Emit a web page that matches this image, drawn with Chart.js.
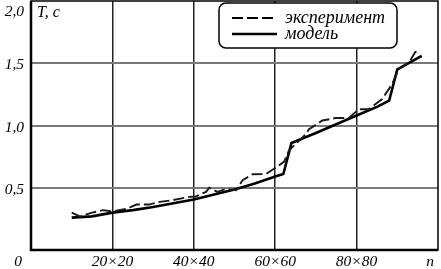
<!DOCTYPE html>
<html>
<head>
<meta charset="utf-8">
<script src="https://cdn.jsdelivr.net/npm/chart.js@4"></script>
<style>
  html, body { margin: 0; padding: 0; background: #fff; }
  #wrap { width: 441px; height: 269px; }
</style>
</head>
<body>
<div id="wrap"><canvas id="chart"></canvas></div>
<script>
// values
const nExp = [10, 12, 15, 17.7, 20, 23.4, 25.9, 29, 31.6, 34.8, 38.9, 40.5, 43, 43.8, 45.8, 47.9, 50.4, 52, 54.4, 57.7, 60.1, 62.2, 63.4, 65, 67.5, 68.3, 71.6, 74.8, 78.1, 80.5, 83, 86.2, 88.7, 90.3, 92.8, 94.4, 95.2];
const tExp = [0.30, 0.27, 0.30, 0.32, 0.31, 0.33, 0.365, 0.365, 0.387, 0.40, 0.427, 0.43, 0.467, 0.50, 0.467, 0.49, 0.48, 0.56, 0.608, 0.61, 0.66, 0.71, 0.80, 0.85, 0.93, 0.97, 1.04, 1.06, 1.06, 1.13, 1.13, 1.21, 1.33, 1.45, 1.50, 1.59, 1.60];
const nModel = [10, 15, 20, 25, 30, 35, 40, 45, 50, 55, 60, 62, 64, 70, 75, 80, 85, 88, 90, 96];
const tModel = [0.26, 0.27, 0.30, 0.32, 0.345, 0.375, 0.405, 0.445, 0.486, 0.535, 0.59, 0.61, 0.86, 0.94, 1.01, 1.08, 1.15, 1.20, 1.45, 1.56];

const xTicks = [20, 40, 60, 80];
const xTickLabels = ['20×20', '40×40', '60×60', '80×80'];
const yTicks = [0.5, 1.0, 1.5, 2.0];
const yTickLabels = ['0,5', '1,0', '1,5', '2,0'];
const seriesNames = ['эксперимент', 'модель'];

const FAMILY = '"Liberation Serif", "Times New Roman", serif';

const toPoints = (xs, ys) => xs.map((x, i) => ({ x: x, y: ys[i] }));

// axis texts, legend box and frame drawn on top of the chart
const decor = {
  id: 'decor',
  afterDraw(chart) {
    const { ctx, chartArea: a, scales: { x, y } } = chart;
    ctx.save();
    ctx.fillStyle = '#000';

    // frame: thin on top/right, heavy on the axes
    ctx.strokeStyle = '#000';
    ctx.lineWidth = 1.5;
    ctx.strokeRect(a.left, a.top, a.right - a.left, a.bottom - a.top);
    ctx.lineWidth = 2.5;
    ctx.beginPath();
    ctx.moveTo(a.left, a.top);
    ctx.lineTo(a.left, a.bottom);
    ctx.lineTo(a.right, a.bottom);
    ctx.stroke();

    // x labels
    ctx.font = 'italic 15.5px ' + FAMILY;
    ctx.textAlign = 'center';
    ctx.textBaseline = 'middle';
    xTicks.forEach((v, i) => ctx.fillText(xTickLabels[i], x.getPixelForValue(v), a.bottom + 12));
    ctx.fillText('0', a.left - 13, a.bottom + 12);
    ctx.fillText('n', a.right - 8, a.bottom + 12);

    // y labels
    ctx.textAlign = 'right';
    yTicks.forEach((v, i) => {
      let py = y.getPixelForValue(v);
      if (py < a.top + 9) py = a.top + 9;
      ctx.fillText(yTickLabels[i], a.left - 7, py + 2);
    });
    ctx.font = 'italic 16px ' + FAMILY;
    ctx.textAlign = 'left';
    ctx.fillText('T, c', a.left + 6, a.top + 12);

    // legend
    const lx = 219, ly = 3, lw = 178, lh = 45;
    ctx.beginPath();
    ctx.roundRect(lx, ly, lw, lh, 7);
    ctx.fillStyle = '#fff';
    ctx.fill();
    ctx.lineWidth = 1.5;
    ctx.strokeStyle = '#000';
    ctx.stroke();
    ctx.font = 'italic 18px ' + FAMILY;
    chart.data.datasets.forEach((ds, i) => {
      const yy = ly + 15 + i * 16;
      ctx.beginPath();
      ctx.setLineDash(ds.borderDash || []);
      ctx.lineWidth = ds.borderWidth;
      ctx.moveTo(lx + 13, yy);
      ctx.lineTo(lx + 58, yy);
      ctx.stroke();
      ctx.setLineDash([]);
      ctx.fillStyle = '#000';
      ctx.fillText(seriesNames[i], lx + 66, yy);
    });
    ctx.restore();
  }
};

new Chart(document.getElementById('chart'), {
  type: 'scatter',
  data: {
    datasets: [
      {
        label: seriesNames[0],
        data: toPoints(nExp, tExp),
        showLine: true,
        borderColor: '#1a1a1a',
        borderWidth: 1.9,
        borderDash: [11, 4],
        pointRadius: 0,
        tension: 0
      },
      {
        label: seriesNames[1],
        data: toPoints(nModel, tModel),
        showLine: true,
        borderColor: '#000',
        borderWidth: 2.6,
        pointRadius: 0,
        tension: 0
      }
    ]
  },
  options: {
    responsive: true,
    maintainAspectRatio: false,
    animation: false,
    layout: { padding: { left: 31, right: 3, top: 1, bottom: 19 } },
    plugins: {
      legend: { display: false },
      tooltip: { enabled: false }
    },
    scales: {
      x: {
        type: 'linear',
        min: 0,
        max: 100,
        afterBuildTicks: (s) => { s.ticks = xTicks.map(v => ({ value: v })); },
        ticks: { display: false },
        grid: { color: '#222', lineWidth: 1.5, drawTicks: false },
        border: { display: false }
      },
      y: {
        min: 0,
        max: 2,
        afterBuildTicks: (s) => { s.ticks = yTicks.slice(0, 3).map(v => ({ value: v })); },
        ticks: { display: false },
        grid: { color: '#7a7a7a', lineWidth: 2, drawTicks: false },
        border: { display: false }
      }
    }
  },
  plugins: [decor]
});
</script>
</body>
</html>
